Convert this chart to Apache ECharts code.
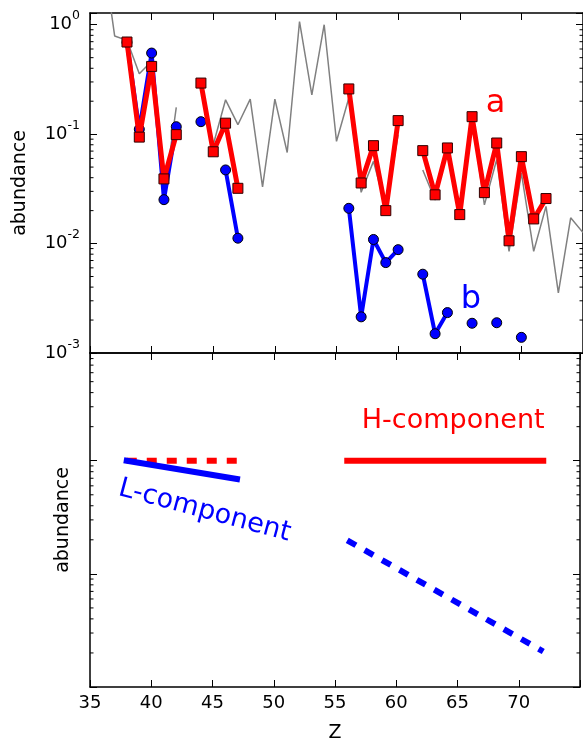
<!DOCTYPE html>
<html><head><meta charset="utf-8">
<script src="https://cdn.jsdelivr.net/npm/echarts@6/dist/echarts.min.js"></script>
<style>html,body{margin:0;padding:0;background:#fff}#c{width:583px;height:744px}</style>
</head><body><div id="c"></div>
<script>
// ---------- data ----------
const zA = [38,39,40,41,42,43,44,45,46,47,48,49,50,51,52,53,54,55,56,57,58,59,60,61,62,63,64,65,66,67,68,69,70,71,72];
const valA = [0.695,0.094,0.416,0.039,0.099,null,0.293,0.069,0.126,0.032,null,null,null,null,null,null,null,null,
              0.259,0.0358,0.0785,0.020,0.133,null,0.0707,0.0279,0.0748,0.0184,0.1445,0.0292,0.083,0.0106,0.0623,0.0168,0.0258];
const zB = [38,39,40,41,42,43,44,45,46,47,48,49,50,51,52,53,54,55,56,57,58,59,60,61,62,63,64,65,66,67,68,69,70];
const valB = [0.69,0.111,0.551,0.0252,0.117,null,0.130,null,0.0471,0.0112,null,null,null,null,null,null,null,null,
              0.021,0.00214,0.0109,0.0067,0.0088,null,0.00525,0.0015,0.00234,null,0.00187,null,0.00189,null,0.00139];
const zSolar = [36,37,38,39,40,41,42,43,44,45,46,47,48,49,50,51,52,53,54,55,56,57,58,59,60,61,62,63,64,65,66,67,68,69,70,71,72,73,74,75];
const valSolar = [5.0,0.79,0.72,0.357,0.463,0.027,0.176,null,0.28,0.080,0.206,0.122,0.209,0.033,0.209,0.068,1.07,0.229,1.0,0.086,
                  0.214,0.0294,0.0564,0.021,0.099,null,0.047,0.025,0.072,0.018,0.14,0.0226,0.0586,0.0085,0.0442,0.0085,0.0219,0.00355,0.0172,0.0126];
// lower panel: schematic components
const zLow = [38,47];
const lSolid = [1.0,0.689];
const lDotted = [1.0,1.0];
const zHigh = [56,72];
const hSolid = [1.0,1.0];
const hDotted = [0.198,0.0206];
const xTicks = [35,40,45,50,55,60,65,70];

// ---------- helpers ----------
const FONT = 'DejaVu Sans';
const XMIN = 35, XMAX = 75;
const TOP_Y = [0.001, 1.28];
const LOW_Y = [0.01, 8.96];
function pairs(zs, vs){ return zs.map((z,i)=>[z, vs[i]==null ? '-' : vs[i]]); }
function minorList(lo, hi){
  const out=[];
  for(let e=Math.floor(Math.log10(lo)); e<=Math.ceil(Math.log10(hi)); e++){
    for(let m=2;m<=9;m++){ const v=m*Math.pow(10,e); if(v>lo*1.0001 && v<hi*0.9999) out.push([XMIN, v]); }
  }
  return out;
}
function supLabel(v){
  const e = Math.log10(v), r = Math.round(e);
  if (Math.abs(e-r) > 1e-6) return '';
  return '{b|10}{s|' + r + '}';
}
const lineAx = {show:true, onZero:false, lineStyle:{color:'#000', width:1.5}};
function xAx(grid, pos, labels, name){
  return {type:'value', gridIndex:grid, position:pos, min:XMIN, max:XMAX, interval:5,
    axisLine:lineAx, splitLine:{show:false},
    axisTick:{show:true, inside:true, length:7, lineStyle:{color:'#000', width:1}},
    axisLabel:{show:labels, color:'#000', fontFamily:FONT, fontSize:18, margin:7,
      formatter: v => (xTicks.indexOf(v) >= 0 ? String(v) : '')},
    name: name || '', nameLocation:'middle', nameGap:37,
    nameTextStyle:{color:'#000', fontFamily:FONT, fontSize:19}};
}
function yAx(grid, pos, range, labels, name, gap){
  return {type:'log', logBase:10, gridIndex:grid, position:pos, min:range[0], max:range[1],
    axisLine:lineAx, splitLine:{show:false},
    axisTick:{show:true, inside:true, length:7, lineStyle:{color:'#000', width:1}},
    axisLabel:{show:labels, color:'#000', fontFamily:FONT, margin:10, formatter:supLabel,
      rich:{b:{fontSize:18, fontFamily:FONT, color:'#000', lineHeight:30},
            s:{fontSize:12.5, fontFamily:FONT, color:'#000', verticalAlign:'top'}}},
    name: name || '', nameLocation:'middle', nameGap: gap || 0,
    nameTextStyle:{color:'#000', fontFamily:FONT, fontSize:19}};
}
function minorSeries(xi, yi, range){
  return {type:'custom', xAxisIndex:xi, yAxisIndex:yi, silent:true, z:1,
    data:minorList(range[0], range[1]), encode:{x:0, y:1},
    renderItem:(params, api)=>{
      const v = api.value(1);
      const l = api.coord([XMIN, v]), r = api.coord([XMAX, v]);
      return {type:'group', children:[
        {type:'line', shape:{x1:l[0], y1:l[1], x2:l[0]+3.5, y2:l[1]}, style:{stroke:'#000', lineWidth:1}},
        {type:'line', shape:{x1:r[0]-3.5, y1:r[1], x2:r[0], y2:r[1]}, style:{stroke:'#000', lineWidth:1}}
      ]};
    }};
}
function textSeries(xi, yi, pt, text, color, rotate){
  return {type:'scatter', xAxisIndex:xi, yAxisIndex:yi, symbolSize:0, silent:true, z:10,
    itemStyle:{opacity:1},
    data:[pt],
    label:{show:true, position:'inside', formatter:text, color:color, opacity:1, fontFamily:FONT,
      fontSize: rotate === undefined ? 32 : 27, rotate: rotate || 0, align:'center', verticalAlign:'middle'}};
}

const chart = echarts.init(document.getElementById('c'));
chart.setOption({
  animation:false,
  backgroundColor:'#fff',
  grid:[
    {left:90, top:13, width:495, height:340},
    {left:90, top:353, width:495, height:341}
  ],
  xAxis:[ xAx(0,'bottom',false), xAx(0,'top',false), xAx(1,'bottom',true,'Z'), xAx(1,'top',false) ],
  yAxis:[ yAx(0,'left',TOP_Y,true,'abundance',60), yAx(0,'right',TOP_Y,false),
          yAx(1,'left',LOW_Y,false,'abundance',17), yAx(1,'right',LOW_Y,false) ],
  series:[
    minorSeries(0,0,TOP_Y), minorSeries(2,2,LOW_Y),
    {type:'line', name:'solar', xAxisIndex:0, yAxisIndex:0, data:pairs(zSolar,valSolar), showSymbol:false,
      lineStyle:{color:'#808080', width:1.5}, z:2, connectNulls:false},
    {type:'line', name:'b', xAxisIndex:0, yAxisIndex:0, data:pairs(zB,valB), symbol:'circle', symbolSize:10,
      itemStyle:{color:'#0000ff', borderColor:'#000', borderWidth:1}, lineStyle:{color:'#0000ff', width:4}, z:3, connectNulls:false},
    {type:'line', name:'a', xAxisIndex:0, yAxisIndex:0, data:pairs(zA,valA), symbol:'rect', symbolSize:10,
      itemStyle:{color:'#ff0000', borderColor:'#300000', borderWidth:1}, lineStyle:{color:'#ff0000', width:5}, z:4, connectNulls:false},
    {type:'line', xAxisIndex:2, yAxisIndex:2, data:pairs(zLow,lDotted), showSymbol:false, z:3,
      lineStyle:{color:'#ff0000', width:6, type:[10,10]}},
    {type:'line', xAxisIndex:2, yAxisIndex:2, data:pairs(zLow,lSolid), showSymbol:false, z:4,
      lineStyle:{color:'#0000ff', width:6, cap:'square'}},
    {type:'line', xAxisIndex:2, yAxisIndex:2, data:pairs(zHigh,hSolid), showSymbol:false, z:3,
      lineStyle:{color:'#ff0000', width:6, cap:'square'}},
    {type:'line', xAxisIndex:2, yAxisIndex:2, data:pairs(zHigh,hDotted), showSymbol:false, z:3,
      lineStyle:{color:'#0000ff', width:6, type:[10,10]}},
    textSeries(0,0,[67.9,0.19],'a','#ff0000'),
    textSeries(0,0,[65.9,0.0031],'b','#0000ff'),
    textSeries(2,2,[64.65,2.25],'H-component','#ff0000',0),
    textSeries(2,2,[44.35,0.36],'L-component','#0000ff',-15)
  ]
});
</script>
</body></html>
